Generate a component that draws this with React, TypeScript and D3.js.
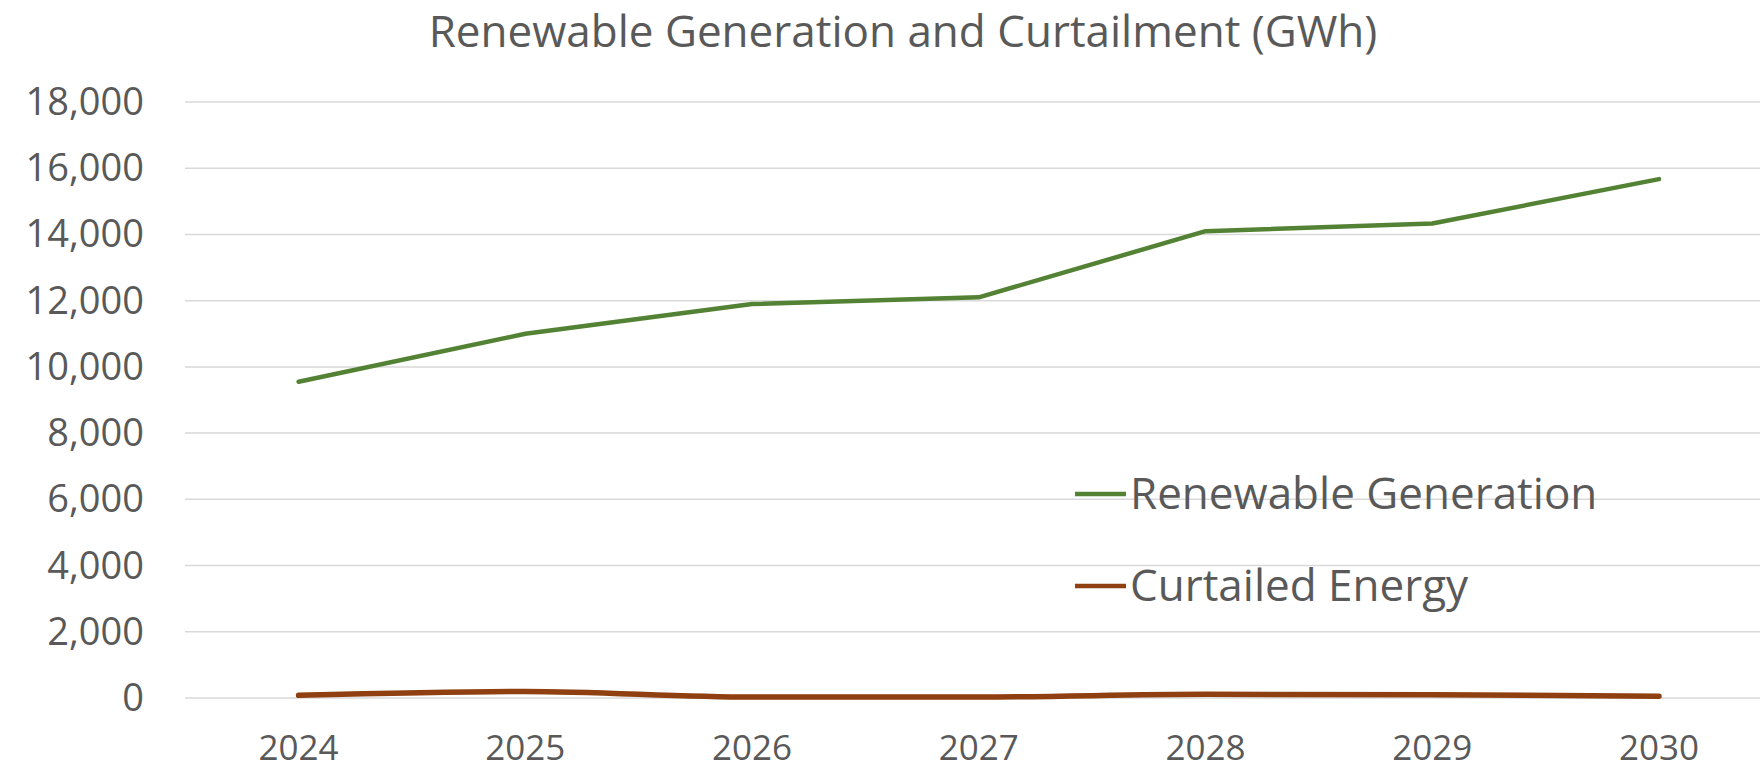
import React from "react";
import * as d3 from "d3";

const years = ["2024", "2025", "2026", "2027", "2028", "2029", "2030"];
const renewableGeneration = [9550, 11000, 11900, 12100, 14100, 14330, 15670];
const curtailedEnergy = [80, 200, 30, 30, 110, 100, 50];
const yTicks = [0, 2000, 4000, 6000, 8000, 10000, 12000, 14000, 16000, 18000];
const seriesNames = ["Renewable Generation", "Curtailed Energy"];
const seriesColors = ["#548235", "#8f3f10"];

const W = 1760;
const H = 765;
const FONT = "'Open Sans', 'DejaVu Sans', sans-serif";
const TEXT = "#595959";

export default function App() {
  const x = d3.scalePoint<string>().domain(years).range([298.6, 1659]);
  const y = d3.scaleLinear().domain([0, 18000]).range([698, 102]);
  const fmt = d3.format(",");
  const lineGen = d3
    .line<number>()
    .x((_, i) => x(years[i]) as number)
    .y((d) => y(d));
  const lineSmooth = d3
    .line<number>()
    .x((_, i) => x(years[i]) as number)
    .y((d) => y(d))
    .curve(d3.curveMonotoneX);

  const legend = [
    { name: seriesNames[0], color: seriesColors[0], y: 494 },
    { name: seriesNames[1], color: seriesColors[1], y: 586 },
  ];

  return (
    <svg
      width={W}
      height={H}
      style={{ position: "absolute", left: 0, top: 0, background: "#fff" }}
      fontFamily={FONT}
    >
      <rect x={0} y={0} width={W} height={H} fill="#fff" />
      <text x={903} y={47} textAnchor="middle" fontSize={44} fill={TEXT}>
        Renewable Generation and Curtailment (GWh)
      </text>
      {yTicks.map((t) => (
        <g key={t}>
          <line x1={185} x2={W} y1={y(t)} y2={y(t)} stroke="#d9d9d9" strokeWidth={1.5} />
          <text x={144} y={y(t) + 13} textAnchor="end" fontSize={38} fill={TEXT}>
            {fmt(t)}
          </text>
        </g>
      ))}
      {years.map((yr) => (
        <text key={yr} x={x(yr)} y={760} textAnchor="middle" fontSize={35} fill={TEXT}>
          {yr}
        </text>
      ))}
      <path d={lineGen(renewableGeneration) || ""} fill="none" stroke={seriesColors[0]} strokeWidth={4.5} strokeLinejoin="round" strokeLinecap="round" />
      <path d={lineSmooth(curtailedEnergy) || ""} fill="none" stroke={seriesColors[1]} strokeWidth={5.5} strokeLinejoin="round" strokeLinecap="round" />
      {legend.map((l) => (
        <g key={l.name}>
          <line x1={1075} x2={1126} y1={l.y} y2={l.y} stroke={l.color} strokeWidth={4.5} />
          <text x={1130} y={l.y + 15} fontSize={44} fill={TEXT}>
            {l.name}
          </text>
        </g>
      ))}
    </svg>
  );
}
